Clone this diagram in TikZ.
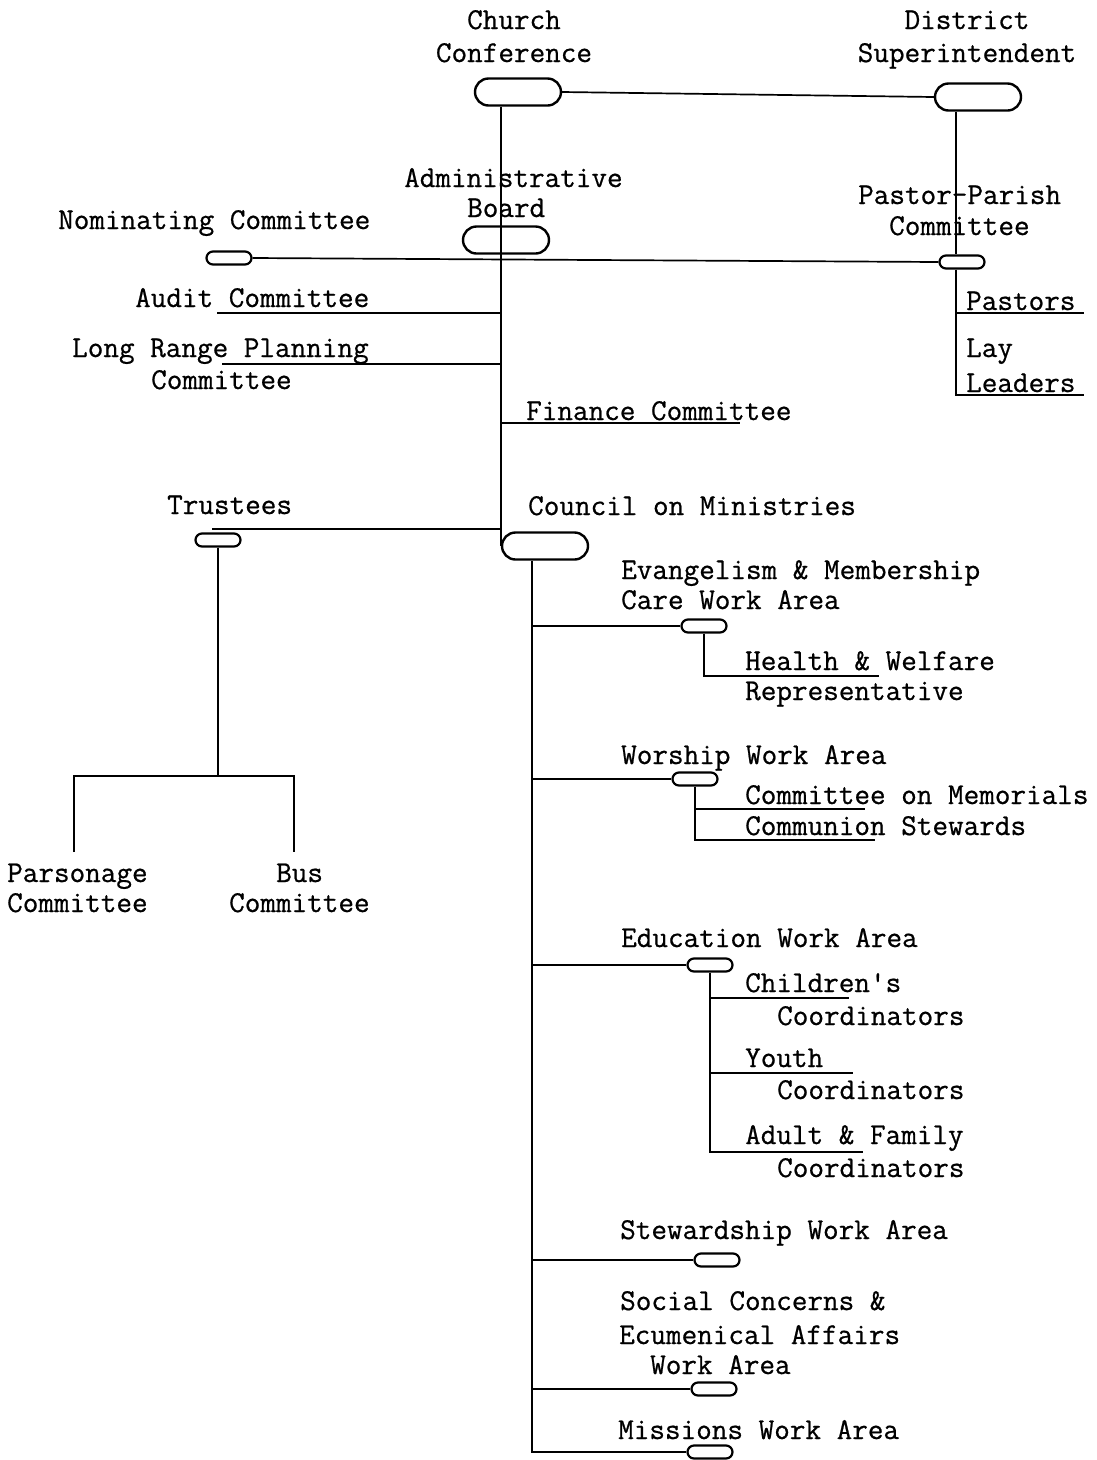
\documentclass[tikz,border=0pt]{standalone}
\usepackage{fontspec}
\newfontfamily\twfont[FakeBold=0.7]{Latin Modern Mono}
\usetikzlibrary{shapes.misc}
\begin{document}
\begin{tikzpicture}[x=1pt,y=-1pt,
  txt/.style={inner sep=0pt, font=\twfont\fontsize{30.3}{31}\selectfont, anchor=base west},
  ctxt/.style={txt, anchor=base},
  bigoval/.style={rounded rectangle, draw, line width=2.4pt, inner sep=0pt, minimum width=86pt, minimum height=27pt},
  smalloval/.style={rounded rectangle, draw, line width=2.2pt, inner sep=0pt, minimum width=45pt, minimum height=13pt},
  conn/.style={line width=1.7pt}]
\useasboundingbox (0,0) rectangle (1097,1460);

% ovals
\node[bigoval] (cc) at (518,92) {};
\node[bigoval] (ds) at (978,97) {};
\node[bigoval] (ab) at (506,240) {};
\node[bigoval] (co) at (545,546) {};
\node[smalloval] (no) at (229,258) {};
\node[smalloval] (pp) at (962,262) {};
\node[smalloval] (tr) at (218,540) {};
\node[smalloval] (ev) at (704,626) {};
\node[smalloval] (wo) at (695,779) {};
\node[smalloval] (ed) at (710,965) {};
\node[smalloval] (st) at (717,1260) {};
\node[smalloval] (sc) at (714,1389) {};
\node[smalloval] (mi) at (710,1452) {};

% texts
\node[ctxt] (tcc1) at (514,29) {Church};
\node[ctxt] (tcc2) at (514,62) {Conference};
\node[ctxt] (tds1) at (967,29) {District};
\node[ctxt] (tds2) at (967,62) {Superintendent};
\node[txt] (tab1) at (404,187) {Administrative};
\node[txt] (tab2) at (467,217) {Board};
\node[txt] (tno) at (58,229) {Nominating Committee};
\node[txt] (tpp1) at (858,204) {Pastor-Parish};
\node[txt] (tpp2) at (889,235) {Committee};
\node[txt] (tau) at (135,307) {Audit Committee};
\node[txt] (tpa) at (966,310) {Pastors};
\node[txt] (tlr1) at (72,357) {Long Range Planning};
\node[txt] (tlr2) at (151,389) {Committee};
\node[txt] (tll1) at (966,357) {Lay};
\node[txt] (tll2) at (966,392) {Leaders};
\node[txt] (tfi) at (526,420) {Finance Committee};
\node[txt] (ttr) at (167,514) {Trustees};
\node[txt] (tco) at (528,515) {Council on Ministries};
\node[txt] (tev1) at (621,579) {Evangelism \& Membership};
\node[txt] (tev2) at (621,609) {Care Work Area};
\node[txt] (thw1) at (745,670) {Health \& Welfare};
\node[txt] (thw2) at (745,700) {Representative};
\node[txt] (two) at (621,764) {Worship Work Area};
\node[txt] (tcm) at (745,804) {Committee on Memorials};
\node[txt] (tcs) at (745,835) {Communion Stewards};
\node[txt] (tpc1) at (7,882) {Parsonage};
\node[txt] (tpc2) at (7,912) {Committee};
\node[txt] (tbu1) at (276,882) {Bus};
\node[txt] (tbu2) at (229,912) {Committee};
\node[txt] (ted) at (621,947) {Education Work Area};
\node[txt] (tch1) at (745,992) {Children's};
\node[txt] (tch2) at (777,1025) {Coordinators};
\node[txt] (tyo1) at (745,1067) {Youth};
\node[txt] (tyo2) at (777,1099) {Coordinators};
\node[txt] (tad1) at (745,1144) {Adult \& Family};
\node[txt] (tad2) at (777,1177) {Coordinators};
\node[txt] (tst) at (620,1239) {Stewardship Work Area};
\node[txt] (tsc1) at (620,1310) {Social Concerns \&};
\node[txt] (tsc2) at (619,1344) {Ecumenical Affairs};
\node[txt] (tsc3) at (650,1374) {Work Area};
\node[txt] (tmi) at (618,1439) {Missions Work Area};

% coordinates for free ends
\coordinate (dv) at (956,0);
\coordinate (paend) at (1084,313);
\coordinate (llend) at (1084,395);
\coordinate (au) at (217,313);
\coordinate (lr) at (222,364);
\coordinate (fi) at (740,423);
\coordinate (trj) at (212,529);
\coordinate (trbar) at (217,776);
\coordinate (pcl) at (74,852);
\coordinate (bul) at (294,852);
\coordinate (cv) at (532,0);
\coordinate (hw) at (879,676);
\coordinate (cm) at (865,809);
\coordinate (cs) at (875,840);
\coordinate (ch) at (849,998);
\coordinate (yo) at (853,1073);
\coordinate (ad) at (863,1152);

% connectors
\draw[conn] (cc.east) -- (ds.west);
\draw[conn] (cc.south -| co.west) -- (co.west);
\draw[conn] (no.east) -- (pp.west);
\draw[conn] (ds.south -| dv) -- (pp.north -| dv);
\draw[conn] (pp.south -| dv) |- (llend);
\draw[conn] (paend -| dv) -- (paend);
\draw[conn] (au) -- (au -| co.west);
\draw[conn] (lr) -- (lr -| co.west);
\draw[conn] (fi -| co.west) -- (fi);
\draw[conn] (trj) -- (trj -| co.west);
\draw[conn] (tr.south) -- (tr.south |- trbar);
\draw[conn] (pcl) |- (bul |- trbar) -- (bul);
\draw[conn] (co.south -| cv) |- (mi.west);
\draw[conn] (ev.west -| cv) -- (ev.west);
\draw[conn] (wo.west -| cv) -- (wo.west);
\draw[conn] (ed.west -| cv) -- (ed.west);
\draw[conn] (st.west -| cv) -- (st.west);
\draw[conn] (sc.west -| cv) -- (sc.west);
\draw[conn] (ev.south) |- (hw);
\draw[conn] (wo.south) |- (cs);
\draw[conn] (cm -| wo.south) -- (cm);
\draw[conn] (ed.south) |- (ad);
\draw[conn] (ch -| ed.south) -- (ch);
\draw[conn] (yo -| ed.south) -- (yo);
\end{tikzpicture}
\end{document}
